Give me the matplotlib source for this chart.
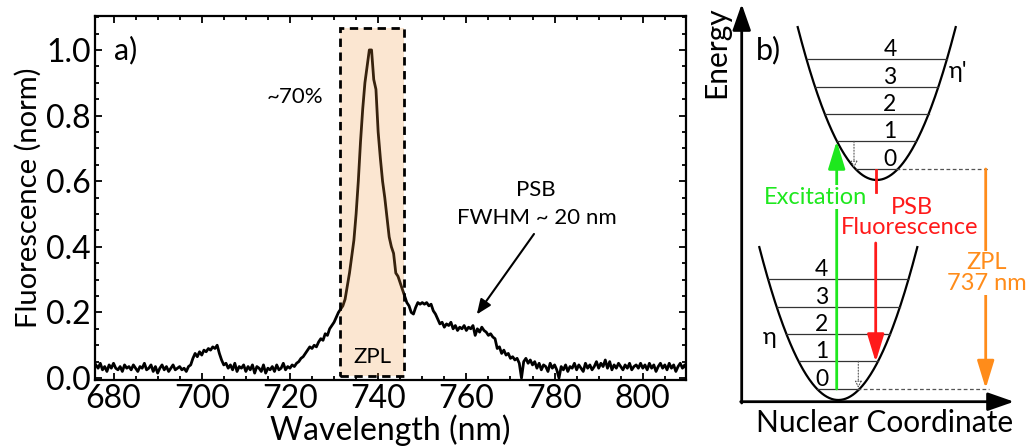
import numpy as np
import matplotlib.pyplot as plt
from matplotlib.ticker import MultipleLocator
from matplotlib.patches import Rectangle

plt.rcParams['font.family'] = ['Lato', 'DejaVu Sans']

# spectrum sampled every 0.5 nm from 676 to 810 nm
wl_start = 676.0
wl_step = 0.5
intensity = [
    0.04, 0.03, 0.045, 0.025, 0.035, 0.02, 0.04, 0.03, 0.045, 0.03,
    0.025, 0.035, 0.02, 0.04, 0.03, 0.035, 0.025, 0.04, 0.03, 0.02,
    0.035, 0.03, 0.045, 0.025, 0.03, 0.04, 0.02, 0.035, 0.015, 0.03,
    0.04, 0.025, 0.035, 0.02, 0.03, 0.04, 0.025, 0.03, 0.035, 0.025,
    0.03, 0.02, 0.035, 0.04, 0.06, 0.075, 0.065, 0.08, 0.07, 0.085,
    0.08, 0.09, 0.085, 0.095, 0.09, 0.10, 0.075, 0.055, 0.04, 0.045,
    0.03, 0.04, 0.025, 0.045, 0.02, 0.035, 0.03, 0.04, 0.02, 0.035,
    0.025, 0.04, 0.015, 0.035, 0.03, 0.02, 0.04, 0.015, 0.03, 0.025,
    0.035, 0.02, 0.04, 0.025, 0.03, 0.045, 0.025, 0.035, 0.03, 0.04,
    0.035, 0.045, 0.05, 0.06, 0.065, 0.075, 0.085, 0.095, 0.09, 0.10,
    0.095, 0.11, 0.12, 0.115, 0.135, 0.13, 0.15, 0.16, 0.17, 0.185,
    0.20, 0.21, 0.22, 0.24, 0.28, 0.32, 0.37, 0.42, 0.50, 0.60,
    0.72, 0.82, 0.90, 0.95, 1.00, 1.00, 0.91, 0.88, 0.75, 0.67,
    0.60, 0.55, 0.49, 0.43, 0.40, 0.38, 0.32, 0.31, 0.29, 0.27,
    0.25, 0.23, 0.22, 0.20, 0.195, 0.215, 0.23, 0.225, 0.23, 0.225,
    0.23, 0.22, 0.225, 0.205, 0.195, 0.18, 0.165, 0.17, 0.155, 0.165,
    0.16, 0.17, 0.15, 0.16, 0.145, 0.155, 0.15, 0.16, 0.145, 0.155,
    0.15, 0.16, 0.13, 0.15, 0.14, 0.155, 0.145, 0.14, 0.13, 0.135,
    0.125, 0.12, 0.09, 0.095, 0.075, 0.085, 0.07, 0.075, 0.06, 0.065,
    0.055, 0.06, 0.045, 0.0, 0.05, 0.06, 0.045, 0.055, 0.04, 0.05,
    0.03, 0.045, 0.025, 0.04, 0.035, 0.02, 0.045, 0.03, 0.04, 0.025,
    0.0, 0.035, 0.025, 0.04, 0.02, 0.035, 0.03, 0.045, 0.025, 0.04,
    0.03, 0.02, 0.045, 0.03, 0.04, 0.025, 0.035, 0.05, 0.03, 0.045,
    0.035, 0.055, 0.03, 0.05, 0.025, 0.04, 0.03, 0.045, 0.035, 0.025,
    0.04, 0.03, 0.045, 0.025, 0.035, 0.04, 0.03, 0.045, 0.03, 0.04,
    0.025, 0.045, 0.03, 0.04, 0.02, 0.035, 0.045, 0.03, 0.04, 0.025,
    0.045, 0.03, 0.04, 0.02, 0.035, 0.045, 0.03, 0.04, 0.025,
]
wavelength = wl_start + wl_step * np.arange(len(intensity))

zpl_band = [731.3, 745.8]
xticks = [680, 700, 720, 740, 760, 780, 800]

# energy diagram (drawn in pixel-like coordinates)
levels = ['0', '1', '2', '3', '4']
level_height = [11, 38.7, 66, 93.3, 120.7]   # above each well's minimum
upper_vertex = (876.7, 180)
lower_vertex = (838.3, 400)
curv = 0.0245

fig = plt.figure(figsize=(10.32, 4.46), dpi=100)
ax = fig.add_axes([95/1032, 66/446, 591/1032, 364.5/446])

ax.plot(wavelength, intensity, color='black', lw=2, zorder=2)
ax.add_patch(Rectangle((zpl_band[0], 0.007), zpl_band[1]-zpl_band[0], 1.06,
                       facecolor='#f2963c', alpha=0.23, edgecolor='none', zorder=3))
ax.add_patch(Rectangle((zpl_band[0], 0.007), zpl_band[1]-zpl_band[0], 1.06,
                       facecolor='none', edgecolor='black', lw=2, ls=(0, (3, 2)), zorder=4))

ax.set_xlim(675.8, 809.8)
ax.set_ylim(-0.006, 1.105)
ax.set_xticks(xticks)
ax.xaxis.set_minor_locator(MultipleLocator(5))
ax.yaxis.set_major_locator(MultipleLocator(0.2))
ax.yaxis.set_minor_locator(MultipleLocator(0.05))
ax.tick_params(which='both', direction='in', top=True, right=True, width=1.3, labelsize=23)
ax.tick_params(which='major', length=5, pad=3)
ax.tick_params(which='minor', length=3)
for s in ax.spines.values():
    s.set_linewidth(1.6)
ax.set_xlabel('Wavelength (nm)', fontsize=23, labelpad=0)
ax.set_ylabel('Fluorescence (norm)', fontsize=21, labelpad=3)

ax.text(680.2, 1.0, 'a)', fontsize=22, va='center', ha='left')
ax.text(721.1, 0.857, '~70%', fontsize=16, ha='center', va='center')
ax.text(738.6, 0.064, 'ZPL', fontsize=16, ha='center', va='center', zorder=5)
ax.text(775.8, 0.573, 'PSB', fontsize=16, ha='center', va='center')
ax.text(776.0, 0.487, 'FWHM ~ 20 nm', fontsize=16, ha='center', va='center')
ax.annotate('', xy=(762.0, 0.187), xytext=(775.7, 0.446),
            arrowprops=dict(arrowstyle='-|>,head_length=0.6,head_width=0.25',
                            color='black', lw=1.5, mutation_scale=15))

# ---- panel b ----
bx = fig.add_axes([700/1032, 0, 332/1032, 1])
bx.set_xlim(700, 1032)
bx.set_ylim(446, 0)
bx.axis('off')

axis_arrow = dict(arrowstyle='-|>,head_length=0.8,head_width=0.28', color='black',
                  lw=2, mutation_scale=20, shrinkA=0, shrinkB=0)
bx.annotate('', xy=(741.7, 4), xytext=(741.7, 403), arrowprops=axis_arrow)
bx.annotate('', xy=(1014, 401.7), xytext=(740.7, 401.7), arrowprops=axis_arrow)
bx.text(716, 52, 'Energy', rotation=90, fontsize=21.5, ha='center', va='center')
bx.text(885, 423, 'Nuclear Coordinate', fontsize=21.5, ha='center', va='center')
bx.text(768, 50, 'b)', fontsize=22, ha='center', va='center')

for (vx, vy), lab, lab_x, lab_pos in [(upper_vertex, "η'", 890, (958, 72)),
                                     (lower_vertex, 'η', 821.7, (770, 337))]:
    dx = np.linspace(-79, 79, 200)
    bx.plot(vx + dx, vy - curv * dx**2, color='black', lw=1.6)
    for name, h in zip(levels, level_height):
        hw = np.sqrt(h / curv)
        bx.plot([vx - hw, vx + hw], [vy - h, vy - h], color='#333333', lw=0.9)
        bx.text(lab_x, vy - h - 9.5, name, fontsize=16.5, ha='center', va='center')
    bx.text(lab_pos[0], lab_pos[1], lab, fontsize=17, ha='center', va='center')
    # dashed line from lowest level
    hw0 = np.sqrt(level_height[0] / curv)
    bx.plot([vx + hw0 * 0.9, 989], [vy - level_height[0]] * 2, color='#555555',
            lw=0.9, ls=(0, (3, 2)))

# small relaxation arrows
small = dict(arrowstyle='-|>,head_length=0.4,head_width=0.2', color='#555555',
             lw=0.8, ls=':', mutation_scale=10, shrinkA=0, shrinkB=0, fc='white')
bx.annotate('', xy=(854, 168), xytext=(854, 141.3), arrowprops=small)
bx.annotate('', xy=(858.3, 388), xytext=(858.3, 361.3), arrowprops=small)

green = '#1ee81e'
red = '#ff1a1a'
orange = '#ff8c1a'
colour_arrow = '-|>,head_length=0.85,head_width=0.26'
bx.annotate('', xy=(836.7, 141), xytext=(836.7, 389),
            arrowprops=dict(arrowstyle=colour_arrow, color=green,
                            lw=2, mutation_scale=20, shrinkA=0, shrinkB=0))
bx.text(815, 197, 'Excitation', color=green, fontsize=17, ha='center', va='center',
        zorder=5, bbox=dict(facecolor='white', edgecolor='none', pad=1))
# red PSB arrow: short stub below the upper well, then arrow below the label
bx.plot([875.7, 875.7], [170, 192], color=red, lw=2)
bx.annotate('', xy=(875.7, 362), xytext=(875.7, 243),
            arrowprops=dict(arrowstyle=colour_arrow, color=red,
                            lw=2, mutation_scale=20, shrinkA=0, shrinkB=0))
bx.text(911.5, 207, 'PSB', color=red, fontsize=17, ha='center', va='center')
bx.text(910, 228, 'Fluorescence', color=red, fontsize=17, ha='center', va='center')
bx.annotate('', xy=(985.7, 388.5), xytext=(985.7, 169),
            arrowprops=dict(arrowstyle=colour_arrow, color=orange,
                            lw=2, mutation_scale=20, shrinkA=0, shrinkB=0))
bx.text(986.7, 273, 'ZPL\n737 nm', color=orange, fontsize=17, ha='center', va='center',
        linespacing=1.0, bbox=dict(facecolor='white', edgecolor='none', pad=1))

fig.savefig('out.png', dpi=100)
